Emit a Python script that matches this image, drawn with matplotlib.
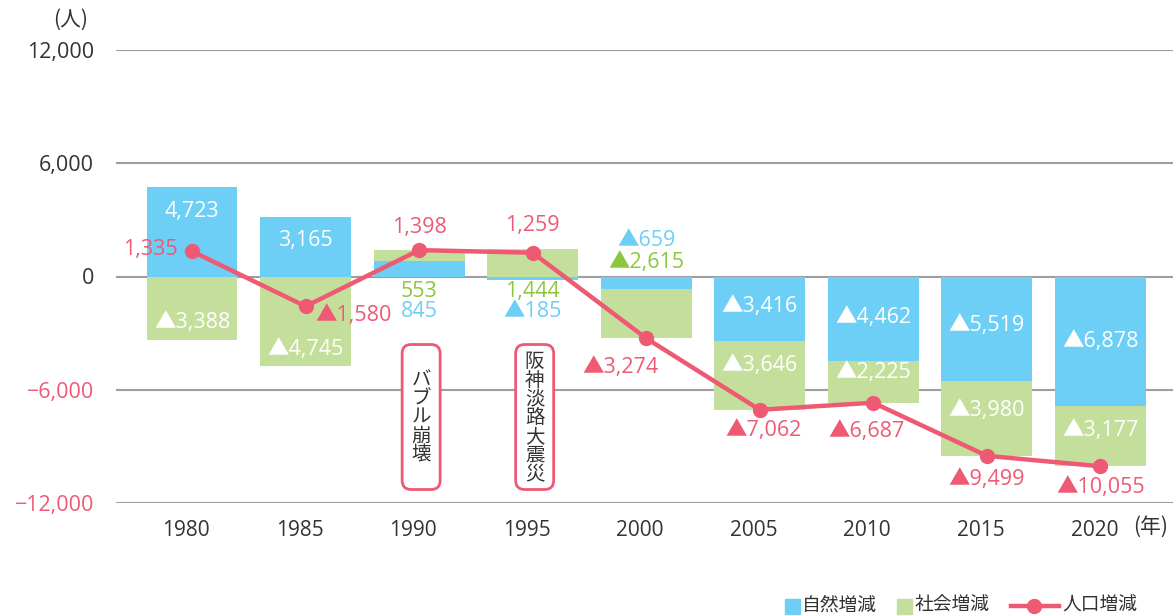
import matplotlib.pyplot as plt
from matplotlib.patches import FancyBboxPatch, Rectangle
from matplotlib.lines import Line2D

plt.rcParams['font.family'] = ['Open Sans', 'Noto Sans CJK JP', 'DejaVu Sans']

# population change by component (persons), ▲ = decrease
years = ['1980', '1985', '1990', '1995', '2000', '2005', '2010', '2015', '2020']
natural = [4723, 3165, 845, -185, -659, -3416, -4462, -5519, -6878]
social = [-3388, -4745, 553, 1444, -2615, -3646, -2225, -3980, -3177]
total = [1335, -1580, 1398, 1259, -3274, -7062, -6687, -9499, -10055]
events = ['バブル崩壊', '阪神淡路大震災']
event_idx = [2, 3]

BLUE = '#6DCFF6'
GREEN = '#C4DF9B'
PINK = '#EE5A73'
GREEN_TXT = '#8DC63F'
TEXT = '#333333'
FS = 15.5

# label placement (data units) and whether the label sits inside its bar
nat_lab_y = [3444, 1907, -1854, -1854, 1907, -1589, -2172, -2596, -3444]
soc_lab_y = [-2437, -3868, -795, -795, 742, -4715, -5086, -7099, -8159]
inside = [True, True, False, False, False, True, True, True, True]
# offsets of the total labels from their markers, in pixels
tot_off = [(-14, 2, 'right'), (10, -9, 'left'), (0, 23, 'center'), (0, 27, 'center'),
           (-26, -29, 'center'), (4, -21, 'center'), (-7, -29, 'center'),
           (0, -24, 'center'), (0, -21, 'center')]


def fmt(v):
    return ('▲' if v < 0 else '') + f'{abs(v):,}'


fig = plt.figure(figsize=(11.73, 6.16), dpi=100)
ax = fig.add_axes([116 / 1173, 1 - 503 / 616, 1 - 116 / 1173, 453 / 616])

x = list(range(len(years)))
soc_bottom = [n if (n > 0) == (s > 0) else 0 for n, s in zip(natural, social)]
ax.bar(x, natural, width=0.8, color=BLUE, zorder=2)
ax.bar(x, social, bottom=soc_bottom, width=0.8, color=GREEN, zorder=2)
ax.plot(x, total, color=PINK, lw=3.2, marker='o', ms=10, zorder=5)

for i in x:
    c_nat = 'white' if inside[i] else BLUE
    c_soc = 'white' if inside[i] else GREEN_TXT
    ax.text(i, nat_lab_y[i], fmt(natural[i]), color=c_nat, fontsize=FS,
            ha='center', va='center', zorder=6)
    ax.text(i, soc_lab_y[i], fmt(social[i]), color=c_soc, fontsize=FS,
            ha='center', va='center', zorder=6)
    dx, dy, ha = tot_off[i]
    ax.annotate(fmt(total[i]), (i, total[i]), xytext=(dx, dy),
                textcoords='offset pixels', color=PINK, fontsize=FS,
                ha=ha, va='center', zorder=6)

# event boxes with vertical text
px_x = 1 / 113.5
px_y = 24000 / 453
for idx, label in zip(event_idx, events):
    w = 38 * px_x
    box = FancyBboxPatch((idx + 2 * px_x - w / 2, -11285), w, 11285 - 3603,
                         boxstyle=f'round,pad=0,rounding_size={9 * px_x}',
                         mutation_aspect=px_y / px_x, fc='white', ec=PINK,
                         lw=2, zorder=4)
    ax.add_patch(box)
    ax.text(idx + 2 * px_x, -7500, '\n'.join(label), fontsize=14, color=TEXT,
            ha='center', va='center', linespacing=1.05, zorder=6)

ax.set_xlim(-0.67, 8.64)
ax.set_ylim(-12000, 12000)
yt = [-12000, -6000, 0, 6000, 12000]
ax.set_yticks(yt)
ax.set_yticklabels([('−' if v < 0 else '') + f'{abs(v):,}' for v in yt], fontsize=FS)
for lab, v in zip(ax.get_yticklabels(), yt):
    lab.set_color(PINK if v < 0 else TEXT)
# year labels sit a little left of the bar centres
ax.set_xticks([i - 6 * px_x for i in x])
ax.set_xticklabels(years, fontsize=15, color=TEXT)
ax.tick_params(axis='y', length=0, pad=16)
ax.tick_params(axis='x', length=0, pad=12)
ax.yaxis.grid(True, color='#9E9E9E', lw=1.5)
ax.set_axisbelow(True)
for s in ax.spines.values():
    s.set_visible(False)

# unit labels and legend, laid out in figure pixels
lax = fig.add_axes([0, 0, 1, 1], zorder=10)
lax.set_xlim(0, 1173)
lax.set_ylim(616, 0)
lax.axis('off')
cjk = ['Noto Sans CJK JP', 'DejaVu Sans']
lax.text(71, 20, '(人)', fontsize=15, color=TEXT, ha='center', va='center', family=cjk)
lax.text(1168, 527, '(年)', fontsize=15, color=TEXT, ha='right', va='center', family=cjk)

lax.add_patch(Rectangle((785, 599), 15, 15, color=BLUE))
lax.text(802, 606, '自然増減', fontsize=13.5, color=TEXT, va='center')
lax.add_patch(Rectangle((897, 599), 15, 15, color=GREEN))
lax.text(915, 606, '社会増減', fontsize=13.5, color=TEXT, va='center')
lax.add_line(Line2D([1011, 1059], [606, 606], color=PINK, lw=3.2))
lax.plot([1034], [606], 'o', color=PINK, ms=10)
lax.text(1062, 606, '人口増減', fontsize=13.5, color=TEXT, va='center')

plt.savefig('out.png', dpi=100)
plt.close(fig)
